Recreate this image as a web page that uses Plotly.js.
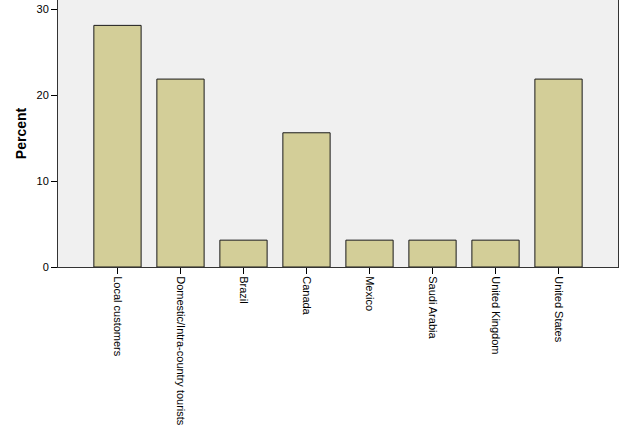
<!DOCTYPE html>
<html>
<head>
<script src="https://cdn.plot.ly/plotly-3.0.1.min.js"></script>
<style>html,body{margin:0;padding:0;background:#fff;}#chart{width:625px;height:427px;}</style>
</head>
<body>
<div id="chart"></div>
<script>
const categories = ["Local customers", "Domestic/Intra-country tourists", "Brazil", "Canada", "Mexico", "Saudi Arabia", "United Kingdom", "United States"];
const percents = [28.125, 21.875, 3.125, 15.625, 3.125, 3.125, 3.125, 21.875];
const yTicks = [0, 10, 20, 30];

const trace = {
  type: "bar",
  x: categories,
  y: percents,
  width: 0.75,
  marker: {color: "#d3ce98", line: {color: "#1a1a1a", width: 1}},
  hoverinfo: "none"
};

const layout = {
  width: 625, height: 427,
  margin: {l: 58, r: 7, t: 0, b: 160, pad: 0},
  paper_bgcolor: "#ffffff",
  plot_bgcolor: "#f0f0f0",
  font: {family: "Liberation Sans, Arial, sans-serif", size: 11, color: "#000"},
  showlegend: false,
  xaxis: {
    type: "category",
    range: [-0.944, 7.944],
    tickangle: 90,
    ticks: "outside", ticklen: 6, tickwidth: 1, tickcolor: "#000",
    showline: true, linecolor: "#333", linewidth: 1, mirror: true,
    showgrid: false, zeroline: false,
    tickfont: {size: 11, color: "#000"}
  },
  yaxis: {
    range: [0, 31.08],
    tickvals: yTicks,
    ticktext: yTicks.map(String),
    ticks: "outside", ticklen: 6, tickwidth: 1, tickcolor: "#000",
    showline: true, linecolor: "#333", linewidth: 1, mirror: true,
    showgrid: false, zeroline: false,
    tickfont: {size: 11, color: "#000"},
    title: {text: "<b>Percent</b>", font: {size: 14, color: "#000"}, standoff: 6}
  }
};

Plotly.newPlot("chart", [trace], layout, {displayModeBar: false, staticPlot: true});
</script>
</body>
</html>
